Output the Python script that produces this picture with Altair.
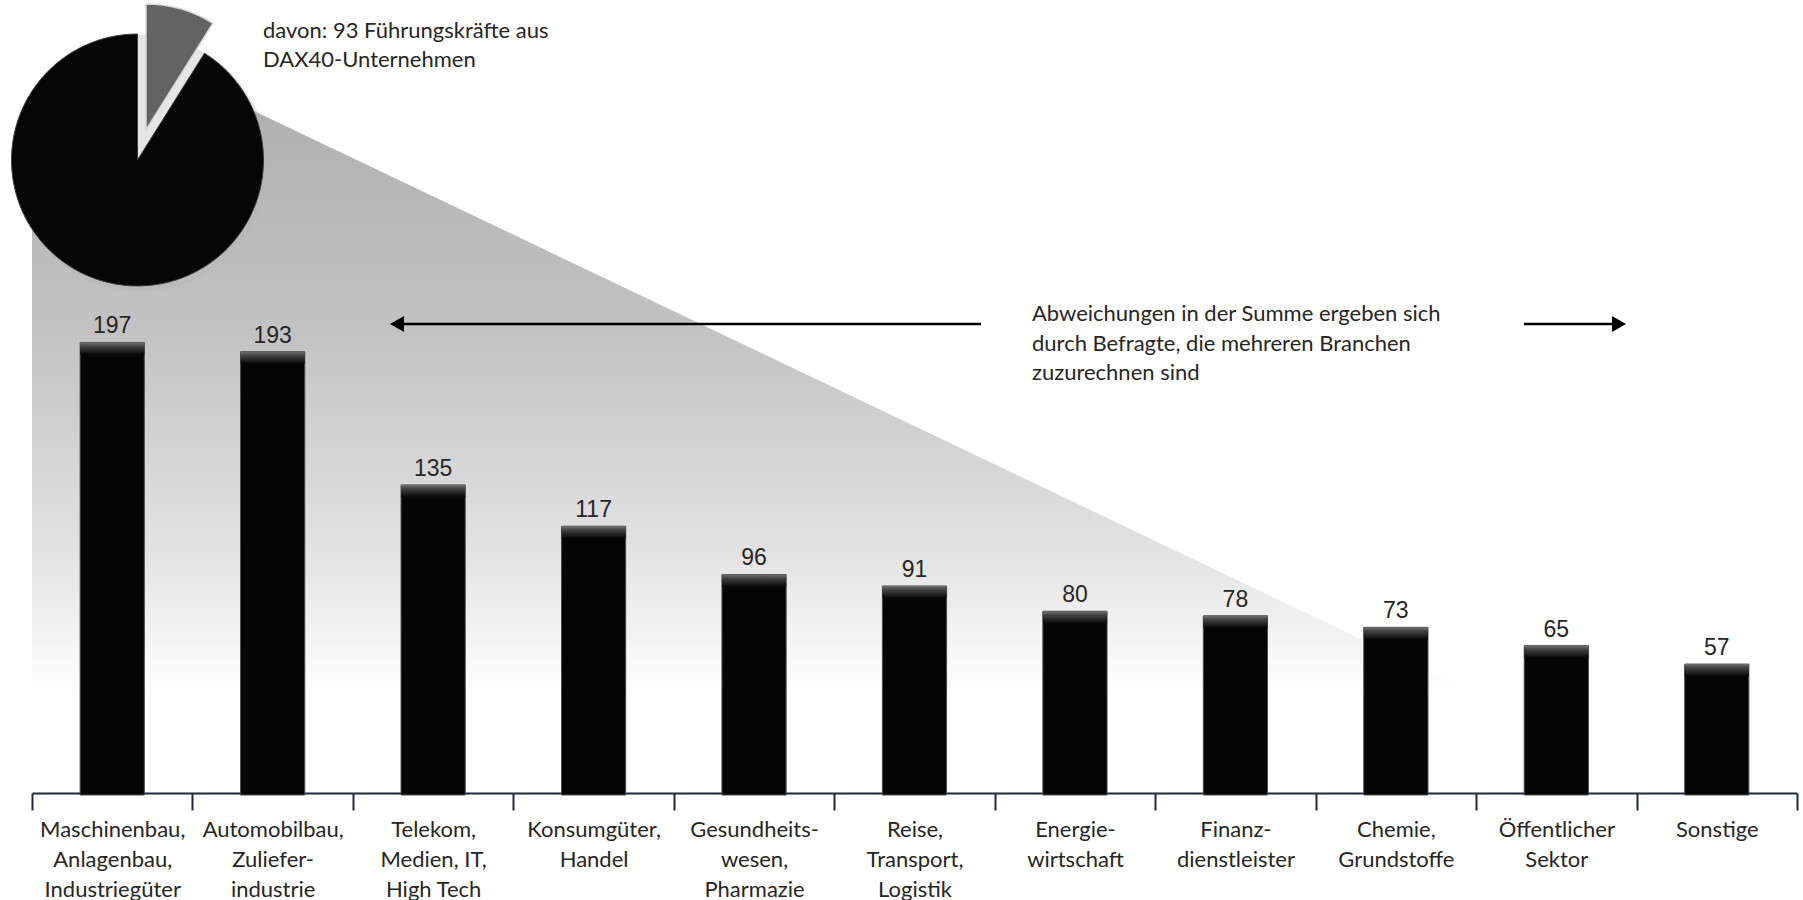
import altair as alt
import pandas as pd

# ---- data ----
categories = [
    "Maschinenbau,\nAnlagenbau,\nIndustriegüter",
    "Automobilbau,\nZuliefer-\nindustrie",
    "Telekom,\nMedien, IT,\nHigh Tech",
    "Konsumgüter,\nHandel",
    "Gesundheits-\nwesen,\nPharmazie",
    "Reise,\nTransport,\nLogistik",
    "Energie-\nwirtschaft",
    "Finanz-\ndienstleister",
    "Chemie,\nGrundstoffe",
    "Öffentlicher\nSektor",
    "Sonstige",
]
values = [197, 193, 135, 117, 96, 91, 80, 78, 73, 65, 57]

pie_groups = ["DAX40", "Übrige"]
pie_values = [93, 950]

pie_note = "davon: 93 Führungskräfte aus\nDAX40-Unternehmen"
sum_note = "Abweichungen in der Summe ergeben sich\ndurch Befragte, die mehreren Branchen\nzuzurechnen sind"

# decorative spotlight wedge (pixel geometry)
wedge_x = [32, 137, 250, 1478]
wedge_top = [170, 175, 109, 695]
wedge_bottom = [695, 695, 695, 695]

bars_df = pd.DataFrame({"cat": categories, "value": values})
pie_df = pd.DataFrame({"group": pie_groups, "value": pie_values, "idx": [0, 1]})
wedge_df = pd.DataFrame({"x": wedge_x, "top": wedge_top, "bottom": wedge_bottom})

CAL = "Lato"
TXT = "#262626"

# ---- shadow wedge ----
shadow = alt.Chart(wedge_df).mark_area(
    color={
        "gradient": "linear",
        "x1": 0, "x2": 0, "y1": 0, "y2": 1,
        "stops": [
            {"offset": 0, "color": "#b0b0b0"},
            {"offset": 0.4, "color": "#c4c4c4"},
            {"offset": 0.75, "color": "#e2e2e2"},
            {"offset": 1, "color": "#ffffff"},
        ],
    },
    orient="vertical",
).encode(
    x=alt.X("x:Q", scale=None, axis=None),
    y=alt.Y("top:Q", scale=None, axis=None),
    y2=alt.Y2("bottom:Q"),
)

# ---- bars ----
xscale = alt.Scale(range=[32, 1797], paddingInner=0, paddingOuter=0)
yscale = alt.Scale(domain=[0, 346.1], nice=False, zero=True)

xenc = alt.X(
    "cat:N", sort=None, scale=xscale, title=None,
    axis=alt.Axis(
        labelExpr="split(datum.label, '\\n')",
        labelAngle=0, labelFont=CAL, labelFontSize=22, labelColor=TXT,
        labelLineHeight=30, labelPadding=9, labelBaseline="top",
        labelLimit=300, labelOverlap=False, labelBound=False,
        domainColor="#1e2838", domainWidth=2,
        tickColor="#1e2838", tickWidth=2, tickSize=17,
        tickBand="extent", grid=False, offset=-2,
    ),
)
yenc = alt.Y("value:Q", scale=yscale, axis=None)

BW = alt.RelativeBandSize(0.4)

bars = alt.Chart(bars_df).mark_bar(
    color="#050505", stroke="#4a4a4a", strokeWidth=1, width=BW
).encode(x=xenc, y=yenc)

bevel = alt.Chart(bars_df).mark_bar(
    y2Offset=12, width=BW,
    color={
        "gradient": "linear",
        "x1": 0, "x2": 0, "y1": 0, "y2": 1,
        "stops": [
            {"offset": 0, "color": "#727272"},
            {"offset": 0.3, "color": "#444444"},
            {"offset": 1, "color": "#080808"},
        ],
    },
).encode(x=xenc, y=yenc, y2=alt.Y2("value:Q"))

labels = alt.Chart(bars_df).mark_text(
    dy=-9, baseline="alphabetic", font="Liberation Sans", fontSize=23, color=TXT
).encode(x=xenc, y=yenc, text=alt.Text("value:Q"))

bar_layer = alt.layer(bars, bevel, labels)

# ---- pie ----
is_dax = alt.datum.group == "DAX40"
pie_shadow = alt.Chart(pie_df).mark_arc(radius=128, color="#b5b5b5", opacity=0.35).encode(
    theta=alt.Theta("value:Q", stack=True),
    order=alt.Order("idx:Q"),
    x=alt.value(140), y=alt.value(163),
)
pie_main = alt.Chart(pie_df).mark_arc(radius=126, stroke="#3a3a3a", strokeWidth=1).encode(
    theta=alt.Theta("value:Q", stack=True),
    order=alt.Order("idx:Q"),
    color=alt.condition(is_dax, alt.value("#636363"), alt.value("#060606")),
    opacity=alt.condition(is_dax, alt.value(0), alt.value(1)),
    x=alt.value(137.5), y=alt.value(160),
)
pie_slice = alt.Chart(pie_df).mark_arc(radius=126, stroke="#d8d8d8", strokeWidth=1.5).encode(
    theta=alt.Theta("value:Q", stack=True),
    order=alt.Order("idx:Q"),
    color=alt.condition(is_dax, alt.value("#636363"), alt.value("#060606")),
    opacity=alt.condition(is_dax, alt.value(1), alt.value(0)),
    x=alt.value(146), y=alt.value(130),
)

one = pd.DataFrame({"k": [0]})

note1 = alt.Chart(one).mark_text(
    text=pie_note, lineBreak="\n", align="left", baseline="middle",
    font=CAL, fontSize=22, lineHeight=29, color=TXT,
).encode(x=alt.value(263), y=alt.value(31))

note2 = alt.Chart(one).mark_text(
    text=sum_note, lineBreak="\n", align="left", baseline="middle",
    font=CAL, fontSize=22, lineHeight=29.5, color=TXT,
).encode(x=alt.value(1032), y=alt.value(314))

# ---- arrows ----
arrow_l = alt.Chart(one).mark_rule(color="black", strokeWidth=2.5).encode(
    x=alt.value(398), x2=alt.value(981), y=alt.value(324)
)
head_l = alt.Chart(one).mark_point(shape="triangle-left", filled=True, size=260, color="black", opacity=1).encode(
    x=alt.value(397), y=alt.value(324)
)
arrow_r = alt.Chart(one).mark_rule(color="black", strokeWidth=2.5).encode(
    x=alt.value(1524), x2=alt.value(1620), y=alt.value(324)
)
head_r = alt.Chart(one).mark_point(shape="triangle-right", filled=True, size=260, color="black", opacity=1).encode(
    x=alt.value(1619), y=alt.value(324)
)

chart = alt.layer(
    shadow, bar_layer, pie_shadow, pie_main, pie_slice, note1, note2,
    arrow_l, head_l, arrow_r, head_r,
).resolve_scale(x="independent", y="independent").properties(
    width=1803, height=795,
    autosize=alt.AutoSizeParams(type="none"),
    padding={"left": 0, "top": 0, "right": 0, "bottom": 105},
    background="white",
).configure_view(stroke=None)

chart.save("out.html", embed_options={"renderer": "svg", "actions": False})
